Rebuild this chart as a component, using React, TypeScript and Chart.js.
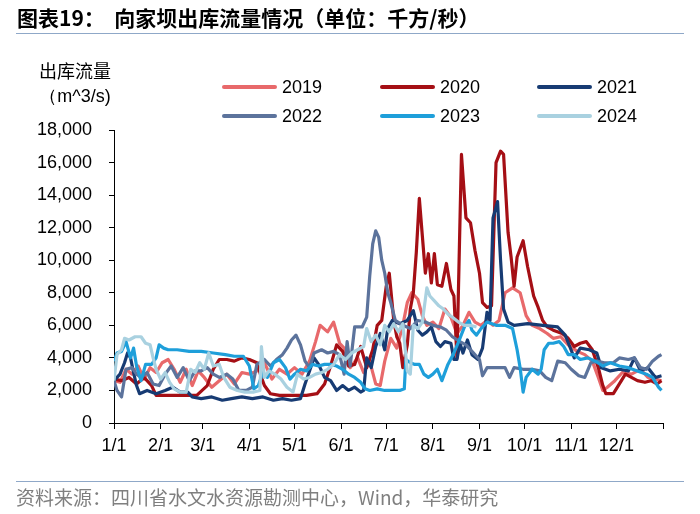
import React, { useEffect, useRef } from "react";
import { Chart, registerables } from "chart.js";

Chart.register(...registerables);

// ---- Data (day of year index, flow m^3/s) ----
const monthStartDays = [0, 31, 59, 90, 120, 151, 181, 212, 243, 273, 304, 334, 365];
const monthLabels = ["1/1", "2/1", "3/1", "4/1", "5/1", "6/1", "7/1", "8/1", "9/1", "10/1", "11/1", "12/1", ""];
const yTicksMax = 18000;
const yTickStep = 2000;

const days2019 = [0, 4, 8, 12, 16, 20, 24, 28, 32, 36, 40, 44, 48, 52, 56, 60, 65, 70, 75, 80, 85, 90, 95, 100, 105, 110, 115, 120, 125, 130, 134, 137, 142, 146, 150, 153, 157, 162, 166, 170, 174, 177, 180, 184, 188, 192, 195, 198, 202, 205, 208, 212, 216, 220, 224, 228, 232, 236, 240, 244, 248, 252, 256, 260, 265, 270, 274, 278, 283, 288, 292, 297, 302, 308, 313, 318, 322, 325, 328, 333, 338, 344, 350, 355, 360, 364];
const flow2019 = [2600, 2500, 3300, 3000, 3500, 2700, 3400, 3100, 3700, 3900, 3300, 2500, 3300, 2300, 3200, 2800, 2200, 2600, 3000, 2400, 3100, 3000, 3200, 3700, 2700, 3300, 3000, 3400, 3000, 3800, 5000, 6000, 5600, 6200, 4900, 4600, 3400, 4000, 3100, 3800, 2400, 2300, 3800, 5200, 4600, 6000, 7400, 8000, 7600, 6600, 6000, 6200, 5800, 7000, 6500, 5500, 6000, 6800, 6200, 6000, 6300, 6000, 6300, 8000, 8300, 8000, 6600, 6000, 5800, 5500, 5200, 5300, 4800, 4400, 4200, 3800, 2800, 2000, 2200, 2600, 3100, 3000, 3300, 2800, 2700, 2600];

const days2020 = [0, 5, 10, 15, 20, 25, 28, 35, 45, 55, 62, 66, 70, 75, 80, 85, 90, 95, 98, 100, 104, 110, 120, 128, 135, 140, 144, 148, 152, 156, 160, 164, 168, 172, 175, 178, 181, 183, 186, 188, 190, 192, 195, 197, 199, 201, 203, 205, 207, 209, 211, 213, 215, 218, 221, 224, 226, 228, 231, 234, 237, 240, 243, 245, 248, 251, 254, 257, 259, 262, 264, 266, 268, 272, 275, 279, 282, 285, 288, 292, 298, 302, 306, 310, 314, 318, 322, 325, 327, 332, 336, 340, 344, 348, 353, 357, 361, 364];
const flow2020 = [2700, 2600, 2800, 2400, 2800, 2300, 1700, 1700, 1700, 1700, 2300, 3300, 3900, 3900, 3800, 4000, 3900, 3700, 2800, 2300, 1800, 1700, 1700, 1700, 1800, 2400, 3500, 4800, 4400, 3500, 3600, 4700, 3400, 4500, 6000, 6300, 8400, 9200, 6300, 5300, 4900, 3400, 4800, 7000, 8000, 10500, 13800, 11500, 9200, 10400, 8600, 10400, 8500, 8400, 9800, 8200, 7800, 4000, 16500, 12600, 12300, 10600, 9200, 7400, 7100, 7200, 16000, 16700, 16500, 11700, 10200, 8400, 10200, 11200, 9600, 7800, 7100, 6300, 5900, 5700, 5500, 5200, 4700, 4900, 5000, 4500, 3400, 2300, 1800, 1800, 2400, 3000, 2800, 2600, 2500, 2600, 2400, 2600];

const days2021 = [0, 4, 7, 9, 11, 13, 15, 17, 22, 28, 34, 39, 44, 49, 52, 58, 65, 72, 78, 85, 92, 99, 106, 112, 118, 124, 127, 130, 133, 136, 140, 144, 148, 152, 156, 160, 164, 166, 168, 171, 174, 177, 180, 182, 185, 190, 195, 199, 202, 205, 208, 211, 214, 217, 220, 224, 226, 228, 230, 232, 235, 238, 242, 245, 248, 250, 252, 255, 257, 259, 262, 266, 275, 285, 295, 300, 303, 306, 310, 316, 321, 324, 330, 336, 342, 346, 350, 355, 360, 364];
const flow2021 = [2600, 3000, 3700, 4300, 4000, 3100, 2300, 1800, 2000, 1800, 2000, 2200, 1900, 1900, 1600, 1500, 1600, 1400, 1500, 1600, 1500, 1600, 1400, 1500, 1400, 1500, 2400, 3200, 4000, 3600, 2800, 2600, 2000, 2300, 2000, 2200, 1900, 2000, 4000, 3400, 4700, 5500, 4500, 5800, 6300, 6100, 6300, 6900, 5700, 5400, 5600, 5900, 5000, 4700, 5000, 4900, 3900, 3900, 4900, 4300, 5100, 4200, 3900, 4600, 6800, 6300, 12600, 13600, 10000, 7000, 6200, 6000, 6100, 6000, 5900, 5400, 4700, 4000, 4600, 4500, 4300, 3400, 3200, 3300, 3200, 4000, 3200, 3400, 2800, 2900];

const days2022 = [0, 2, 5, 8, 12, 15, 18, 22, 26, 30, 34, 38, 42, 46, 50, 54, 58, 62, 66, 70, 75, 79, 83, 88, 92, 95, 100, 104, 108, 112, 115, 118, 121, 124, 127, 130, 133, 138, 142, 146, 150, 153, 155, 157, 160, 165, 168, 170, 172, 174, 176, 178, 180, 182, 184, 187, 192, 197, 202, 207, 212, 217, 221, 225, 230, 234, 238, 241, 243, 245, 248, 254, 260, 263, 266, 272, 278, 283, 287, 291, 295, 300, 304, 309, 313, 317, 321, 326, 332, 336, 342, 346, 350, 354, 358, 362, 364];
const flow2022 = [2600, 2000, 1600, 3300, 3400, 3000, 2800, 3100, 2400, 2300, 3000, 3500, 2800, 3400, 2600, 3200, 3200, 3400, 3000, 2800, 3000, 2700, 2000, 2000, 2200, 3600, 3900, 3500, 3900, 4200, 4600, 5100, 5400, 4800, 3800, 3400, 4300, 4500, 4300, 4400, 4200, 3000, 5000, 3500, 5900, 5900, 6500, 9000, 11000, 11800, 11400, 10000, 9200, 8000, 7400, 6300, 6000, 5800, 6300, 6200, 6000, 5900, 5700, 5300, 5000, 4800, 4400, 4100, 3900, 2900, 3400, 3400, 3400, 2800, 3400, 3300, 3300, 3200, 2800, 2600, 3800, 3700, 3300, 2900, 2800, 3700, 3800, 3700, 3700, 4000, 3900, 4000, 3400, 3300, 3800, 4100, 4200];

const days2023 = [0, 2, 5, 8, 11, 13, 15, 18, 21, 25, 28, 30, 33, 36, 42, 50, 58, 66, 74, 80, 86, 90, 93, 96, 99, 102, 106, 110, 114, 117, 120, 124, 128, 132, 136, 140, 144, 148, 152, 156, 160, 164, 167, 170, 175, 180, 185, 190, 193, 194, 197, 200, 203, 206, 209, 212, 215, 218, 222, 226, 230, 233, 236, 238, 241, 244, 248, 254, 260, 265, 268, 270, 272, 274, 278, 282, 284, 286, 289, 292, 296, 299, 302, 306, 310, 315, 320, 325, 330, 336, 342, 348, 354, 358, 362, 364];
const flow2023 = [3800, 4300, 4400, 5000, 4000, 4600, 3500, 2600, 3600, 3600, 4000, 4800, 4600, 4500, 4500, 4400, 4400, 4300, 4200, 4100, 4100, 3500, 2100, 2300, 3100, 2800, 3700, 3900, 3400, 2700, 3000, 3300, 3200, 3600, 3500, 3600, 3600, 3500, 3300, 3000, 2800, 2500, 2100, 2000, 2100, 2000, 2000, 2000, 2100, 3900, 3700, 3600, 3600, 3000, 2800, 3000, 3300, 2600, 3600, 4300, 5200, 5900, 6300, 5700, 5400, 5800, 6200, 6000, 6000, 5800, 4500, 3400, 1900, 2800, 3300, 3000, 3300, 4500, 4900, 4900, 5000, 4700, 4200, 4200, 3900, 4000, 3800, 3500, 3700, 3500, 3400, 3200, 3000, 2800, 2200, 2000];

const days2024 = [0, 2, 5, 7, 10, 14, 18, 21, 24, 26, 28, 31, 34, 37, 40, 44, 48, 51, 54, 57, 60, 63, 66, 70, 73, 77, 82, 87, 93, 97, 98, 100, 103, 107, 111, 115, 119, 122, 126, 130, 134, 138, 142, 146, 150, 154, 158, 162, 166, 168, 171, 174, 177, 180, 183, 186, 189, 192, 195, 197, 199, 202, 205, 208, 210, 213, 216, 219, 222, 225, 229, 233, 237, 241];
const flow2024 = [2600, 4200, 4500, 5200, 5100, 5300, 5300, 4900, 4800, 4000, 3300, 2700, 3100, 2500, 2100, 1900, 1900, 3300, 3100, 3700, 3300, 4300, 3500, 3600, 2800, 2200, 2000, 1900, 1900, 2000, 4700, 2800, 3200, 3000, 2700, 2200, 1900, 3000, 2700, 2800, 3000, 3100, 3300, 3600, 4200, 3900, 4300, 4500, 4700, 5800, 5000, 5400, 4800, 6000, 5600, 6100, 5600, 6100, 3200, 3000, 6000, 5800, 6200, 8300, 7800, 7500, 7200, 7000, 6700, 6500, 6200, 6000, 6000, 5900];

const seriesNames = ["2019", "2020", "2021", "2022", "2023", "2024"];
const seriesColors = ["#E8696B", "#A50F15", "#173B73", "#5C739C", "#1E9FDA", "#A9D1E0"];
const seriesDays = [days2019, days2020, days2021, days2022, days2023, days2024];
const seriesFlows = [flow2019, flow2020, flow2021, flow2022, flow2023, flow2024];

const latin = "'Liberation Sans', Arial, sans-serif";
const cjk = "'Noto Sans CJK SC', 'Liberation Sans', sans-serif";

export default function App() {
  const canvasRef = useRef<HTMLCanvasElement | null>(null);

  useEffect(() => {
    const canvas = canvasRef.current;
    if (!canvas) return;
    const datasets = seriesNames.map((name, i) => ({
      label: name,
      data: seriesDays[i].map((d, j) => ({ x: d, y: seriesFlows[i][j] })),
      borderColor: seriesColors[i],
      backgroundColor: seriesColors[i],
      borderWidth: 3.2,
      pointRadius: 0,
      tension: 0,
      borderJoinStyle: "round" as const,
      order: seriesNames.length - i,
    }));
    const chart = new Chart(canvas, {
      type: "line",
      data: { datasets },
      options: {
        animation: false,
        responsive: false,
        devicePixelRatio: 1,
        layout: { padding: { top: 130, right: 37, left: 0, bottom: 0 } },
        plugins: { legend: { display: false }, tooltip: { enabled: false } },
        scales: {
          x: {
            type: "linear",
            min: 0,
            max: 365,
            afterBuildTicks: (s: any) => {
              s.ticks = monthStartDays.map((v) => ({ value: v }));
            },
            afterFit: (s: any) => {
              s.height = 91;
            },
            ticks: {
              autoSkip: false,
              maxRotation: 0,
              padding: 6,
              color: "#000",
              font: { family: latin, size: 18 },
              callback: (v: any) => {
                const k = monthStartDays.indexOf(Number(v));
                return k >= 0 ? monthLabels[k] : "";
              },
            },
            grid: { drawOnChartArea: false, drawTicks: true, tickLength: 6, color: "#000" },
            border: { color: "#000", width: 1 },
          },
          y: {
            min: 0,
            max: yTicksMax,
            afterFit: (s: any) => {
              s.width = 114;
            },
            ticks: {
              stepSize: yTickStep,
              padding: 17,
              color: "#000",
              font: { family: latin, size: 18 },
              callback: (v: any) => Number(v).toLocaleString("en-US"),
            },
            grid: { drawOnChartArea: false, drawTicks: true, tickLength: 5, color: "#000" },
            border: { color: "#000", width: 1 },
          },
        },
      },
    });
    return () => chart.destroy();
  }, []);

  const legendCols = [222, 380, 537];
  const legendRows = [87, 116];

  return (
    <div style={{ position: "absolute", left: 0, top: 0, width: 700, height: 514, background: "#fff", overflow: "hidden" }}>
      <canvas ref={canvasRef} width={700} height={514} style={{ position: "absolute", left: 0, top: 0, width: 700, height: 514 }} />
      <div style={{ position: "absolute", left: 17, top: 3, fontFamily: cjk, fontWeight: 700, fontSize: 21, lineHeight: "29px", color: "#000", whiteSpace: "pre" }}>
        {"图表19：  向家坝出库流量情况（单位：千方/秒）"}
      </div>
      <div style={{ position: "absolute", left: 16, top: 33, width: 668, height: 0, borderTop: "1.5px solid #8FA8C8" }} />
      <div style={{ position: "absolute", left: 15, top: 57, width: 120, textAlign: "center", fontFamily: cjk, fontSize: 18, lineHeight: "26px", color: "#000" }}>出库流量</div>
      <div style={{ position: "absolute", left: 15, top: 83, width: 120, textAlign: "center", fontFamily: latin, fontSize: 18, lineHeight: "26px", color: "#000" }}>（m^3/s)</div>
      {seriesNames.map((name, i) => {
        const col = legendCols[i % 3];
        const row = legendRows[Math.floor(i / 3)];
        return (
          <div key={name}>
            <div style={{ position: "absolute", left: col, top: row - 2, width: 55, height: 4, background: seriesColors[i], borderRadius: 2 }} />
            <div style={{ position: "absolute", left: col + 60, top: row - 12, fontFamily: latin, fontSize: 18, lineHeight: "24px", color: "#000" }}>{name}</div>
          </div>
        );
      })}
      <div style={{ position: "absolute", left: 16, top: 481, width: 668, height: 0, borderTop: "1.5px solid #8FA8C8" }} />
      <div style={{ position: "absolute", left: 16, top: 484, fontFamily: cjk, fontSize: 19, lineHeight: "26px", color: "#7F7F7F" }}>
        资料来源：四川省水文水资源勘测中心，Wind，华泰研究
      </div>
    </div>
  );
}
